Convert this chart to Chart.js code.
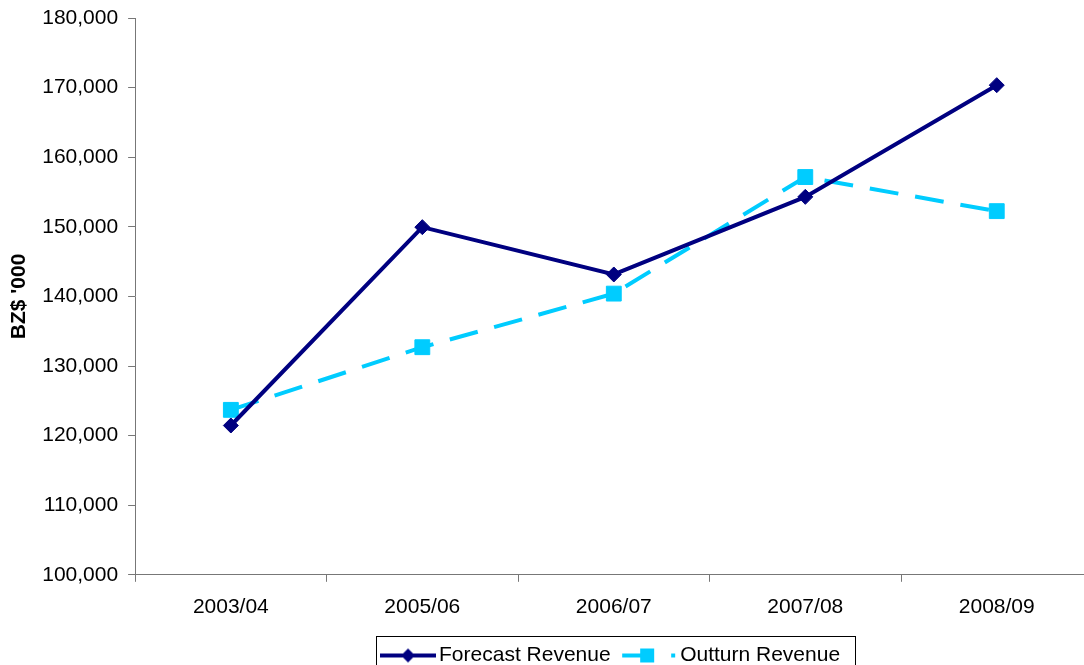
<!DOCTYPE html>
<html>
<head>
<meta charset="utf-8">
<script src="https://cdn.jsdelivr.net/npm/chart.js@4/dist/chart.umd.min.js"></script>
<style>
  html, body { margin: 0; padding: 0; background: #fff; overflow: hidden; }
  #wrap { width: 1084px; height: 665px; overflow: hidden; }
</style>
</head>
<body>
<div id="wrap"><canvas id="chart" width="1104" height="700"></canvas></div>
<script>
const categories = ["2003/04", "2005/06", "2006/07", "2007/08", "2008/09"];
const forecastRevenue = [121450, 149950, 143150, 154300, 170350];
const outturnRevenue = [123700, 132700, 140400, 157150, 152250];

const NAVY = "#000080";
const CYAN = "#00CCFF";
const AXIS = "#777777";

// little legend samples: line + marker, like the spreadsheet legend
function legendSample(kind) {
  const c = document.createElement("canvas");
  c.width = 56;
  c.height = 16;
  const g = c.getContext("2d");
  if (kind === "forecast") {
    g.fillStyle = NAVY;
    g.fillRect(0, 6, 56, 4);
    g.beginPath();
    g.moveTo(28, 1); g.lineTo(35, 8); g.lineTo(28, 15); g.lineTo(21, 8);
    g.closePath();
    g.fill();
  } else {
    g.fillStyle = CYAN;
    g.fillRect(1, 6, 25, 4);
    g.fillRect(19, 1, 14, 14);
    g.fillRect(50, 6, 4, 4);
  }
  return c;
}
const samples = [legendSample("forecast"), legendSample("outturn")];

const legendBorder = {
  id: "legendBorder",
  afterDraw(chart) {
    const boxes = chart.legend && chart.legend.legendHitBoxes;
    if (!boxes || !boxes.length) return;
    const left = Math.min(...boxes.map(b => b.left)) - 12;
    const right = Math.max(...boxes.map(b => b.left + b.width)) + 14;
    const mid = boxes[0].top + boxes[0].height / 2;
    const ctx = chart.ctx;
    ctx.save();
    ctx.strokeStyle = "#000";
    ctx.lineWidth = 1;
    ctx.strokeRect(Math.round(left) + 0.5, Math.round(mid - 20) + 0.5, Math.round(right - left), 44);
    ctx.restore();
  }
};

Chart.defaults.font.family = "'Liberation Sans', Arial, sans-serif";
Chart.defaults.font.size = 21;
Chart.defaults.color = "#000";

new Chart(document.getElementById("chart"), {
  type: "line",
  data: {
    labels: categories,
    datasets: [
      {
        label: "Forecast Revenue",
        data: forecastRevenue,
        borderColor: NAVY,
        backgroundColor: NAVY,
        borderWidth: 4,
        pointStyle: "rectRot",
        pointRadius: 7.5,
        pointBorderWidth: 1,
        tension: 0
      },
      {
        label: "Outturn Revenue",
        data: outturnRevenue,
        borderColor: CYAN,
        backgroundColor: CYAN,
        borderWidth: 4,
        borderDash: [29, 17],
        pointStyle: "rect",
        pointRadius: 10.5,
        pointBorderWidth: 1,
        tension: 0
      }
    ]
  },
  options: {
    responsive: false,
    animation: false,
    layout: { padding: { top: 18, left: 0, right: 0, bottom: 24 } },
    plugins: {
      tooltip: { enabled: false },
      legend: {
        position: "bottom",
        fullSize: false,
        labels: {
          usePointStyle: true,
          pointStyleWidth: 41,
          padding: 18,
          font: { size: 21 },
          generateLabels(chart) {
            const items = Chart.defaults.plugins.legend.labels.generateLabels(chart);
            items.forEach((it, i) => { it.pointStyle = samples[i]; });
            return items;
          }
        }
      }
    },
    scales: {
      x: {
        offset: true,
        grid: { offset: true, drawOnChartArea: false, drawTicks: true, tickLength: 7, color: AXIS },
        border: { color: AXIS },
        ticks: { padding: 13, maxRotation: 0 },
        afterFit(scale) { scale.height -= 6; }
      },
      y: {
        min: 100000,
        max: 180000,
        grid: { drawOnChartArea: false, drawTicks: true, tickLength: 7, color: AXIS },
        border: { color: AXIS },
        ticks: {
          stepSize: 10000,
          padding: 10,
          callback: v => v.toLocaleString("en-US")
        },
        title: {
          display: true,
          text: "BZ$ '000",
          font: { size: 21, weight: "bold" },
          padding: { top: 7, bottom: 0 }
        },
        afterFit(scale) { scale.paddingTop = 0; scale.paddingBottom = 0; }
      }
    }
  },
  plugins: [legendBorder]
});
</script>
</body>
</html>
